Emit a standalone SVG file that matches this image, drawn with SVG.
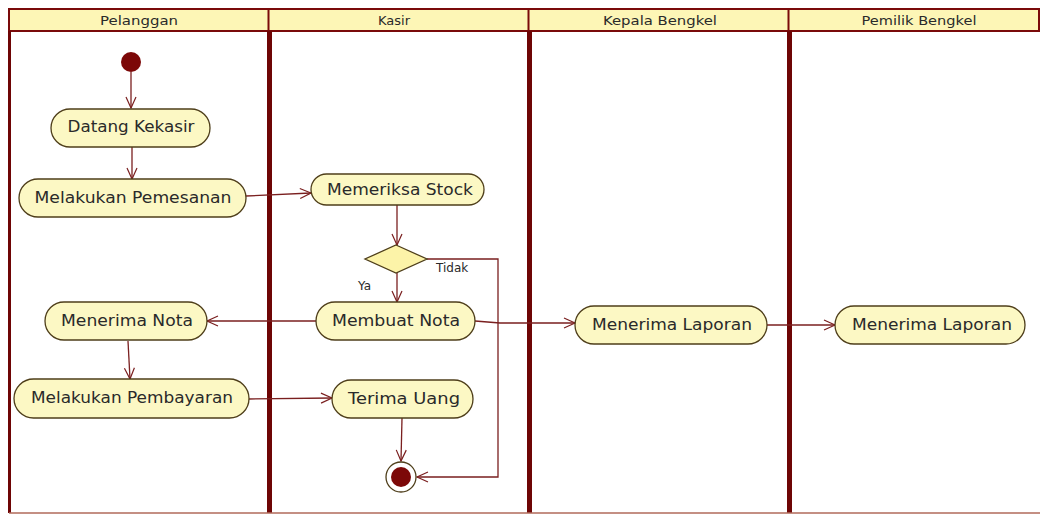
<svg xmlns="http://www.w3.org/2000/svg" width="1040" height="514" viewBox="0 0 1040 514">
  <defs>
    <marker id="arr" markerWidth="14" markerHeight="12" refX="12" refY="6" orient="auto" markerUnits="userSpaceOnUse">
      <path d="M1,1 L12,6 L1,11" fill="none" stroke="#7a1f1f" stroke-width="1.2"/>
    </marker>
    <style>
      .hdr { fill: #fdf6b6; stroke: #7a0a0a; stroke-width: 2; }
      .htxt { font-family: "DejaVu Sans", Verdana, sans-serif; font-size: 13px; fill: #2a2a2a; text-anchor: middle; }
      .lane { stroke: #6e0505; stroke-width: 5; }
      .act { fill: #fcf8c4; stroke: #4e3e1a; stroke-width: 1.3; }
      .atxt { font-family: "DejaVu Sans", Verdana, sans-serif; font-size: 15px; fill: #2a2a2a; text-anchor: middle; }
      .lbl { font-family: "DejaVu Sans", Verdana, sans-serif; font-size: 12px; fill: #2a2a2a; }
      .con { fill: none; stroke: #7a1f1f; stroke-width: 1.3; marker-end: url(#arr); }
    </style>
  </defs>
  <rect x="0" y="0" width="1040" height="514" fill="#ffffff"/>

  <g id="swimlanes">
    <rect class="hdr" x="9" y="9" width="1030" height="22"/>
    <line x1="268.5" y1="9" x2="268.5" y2="31" stroke="#7a0a0a" stroke-width="2"/>
    <line x1="528.5" y1="9" x2="528.5" y2="31" stroke="#7a0a0a" stroke-width="2"/>
    <line x1="788.5" y1="9" x2="788.5" y2="31" stroke="#7a0a0a" stroke-width="2"/>
    <line x1="9.5" y1="31" x2="9.5" y2="513" stroke="#6e0505" stroke-width="3"/>
    <line class="lane" x1="269.5" y1="31" x2="269.5" y2="513"/>
    <line class="lane" x1="529.5" y1="31" x2="529.5" y2="513"/>
    <line class="lane" x1="789.5" y1="31" x2="789.5" y2="513"/>
    <line x1="9" y1="513" x2="1040" y2="513" stroke="#b06a5a" stroke-width="1.5"/>
    <text class="htxt" x="139" y="25" textLength="78" lengthAdjust="spacingAndGlyphs">Pelanggan</text>
    <text class="htxt" x="394" y="25">Kasir</text>
    <text class="htxt" x="660" y="25" textLength="114" lengthAdjust="spacingAndGlyphs">Kepala Bengkel</text>
    <text class="htxt" x="919" y="25" textLength="115" lengthAdjust="spacingAndGlyphs">Pemilik Bengkel</text>
  </g>

  <g id="connectors">
    <line class="con" x1="131" y1="72" x2="131" y2="108"/>
    <line class="con" x1="132" y1="147" x2="132" y2="179"/>
    <line class="con" x1="246" y1="196" x2="311" y2="193"/>
    <line class="con" x1="397" y1="205" x2="397" y2="245"/>
    <line class="con" x1="397" y1="273" x2="397" y2="302"/>
    <polyline class="con" points="427,259 498,259 498,477 417,477"/>
    <line class="con" x1="316" y1="321" x2="207" y2="321"/>
    <polyline class="con" points="475,321 500,323 575,323"/>
    <line class="con" x1="767" y1="325" x2="835" y2="325"/>
    <line class="con" x1="128" y1="341" x2="130" y2="379"/>
    <line class="con" x1="249" y1="399" x2="332" y2="398"/>
    <line class="con" x1="402" y1="418" x2="401" y2="461"/>
  </g>

  <g id="start">
    <circle cx="131" cy="62" r="10" fill="#7c0808"/>
  </g>

  <g id="datang-kekasir">
    <rect class="act" x="51" y="109" width="159" height="38" rx="19"/>
    <text class="atxt" x="131" y="132" textLength="127" lengthAdjust="spacingAndGlyphs">Datang Kekasir</text>
  </g>

  <g id="melakukan-pemesanan">
    <rect class="act" x="19" y="179" width="227" height="38" rx="19"/>
    <text class="atxt" x="133" y="203" textLength="197" lengthAdjust="spacingAndGlyphs">Melakukan Pemesanan</text>
  </g>

  <g id="memeriksa-stock">
    <rect class="act" x="311" y="174" width="173" height="31" rx="15.5"/>
    <text class="atxt" x="400" y="195" textLength="146" lengthAdjust="spacingAndGlyphs">Memeriksa Stock</text>
  </g>

  <g id="decision">
    <polygon points="396,245 427,259 396,273 365,259" fill="#fcf3a8" stroke="#4e3e1a" stroke-width="1.3"/>
    <text class="lbl" x="436" y="272">Tidak</text>
    <text class="lbl" x="358" y="290">Ya</text>
  </g>

  <g id="membuat-nota">
    <rect class="act" x="316" y="302" width="159" height="38" rx="19"/>
    <text class="atxt" x="396" y="326" textLength="128" lengthAdjust="spacingAndGlyphs">Membuat Nota</text>
  </g>

  <g id="menerima-nota">
    <rect class="act" x="45" y="302" width="162" height="38" rx="19"/>
    <text class="atxt" x="127" y="326" textLength="132" lengthAdjust="spacingAndGlyphs">Menerima Nota</text>
  </g>

  <g id="melakukan-pembayaran">
    <rect class="act" x="14" y="379" width="235" height="39" rx="19.5"/>
    <text class="atxt" x="132" y="403" textLength="202" lengthAdjust="spacingAndGlyphs">Melakukan Pembayaran</text>
  </g>

  <g id="terima-uang">
    <rect class="act" x="332" y="380" width="141" height="38" rx="19"/>
    <text class="atxt" x="404" y="404" textLength="112" lengthAdjust="spacingAndGlyphs">Terima Uang</text>
  </g>

  <g id="end">
    <circle cx="401" cy="477" r="15" fill="#ffffff" stroke="#4e3e1a" stroke-width="1.3"/>
    <circle cx="401" cy="477" r="10" fill="#7c0808"/>
  </g>

  <g id="menerima-laporan-kepala">
    <rect class="act" x="575" y="306" width="192" height="38" rx="19"/>
    <text class="atxt" x="672" y="330" textLength="160" lengthAdjust="spacingAndGlyphs">Menerima Laporan</text>
  </g>

  <g id="menerima-laporan-pemilik">
    <rect class="act" x="835" y="306" width="190" height="38" rx="19"/>
    <text class="atxt" x="932" y="330" textLength="160" lengthAdjust="spacingAndGlyphs">Menerima Laporan</text>
  </g>
</svg>
